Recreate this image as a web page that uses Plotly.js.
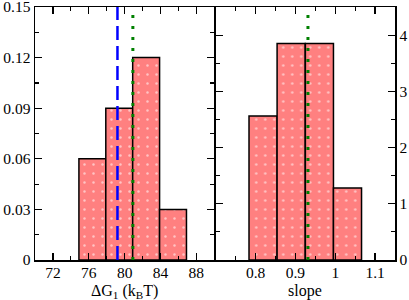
<!DOCTYPE html>
<html>
<head>
<meta charset="utf-8">
<script src="https://cdn.plot.ly/plotly-3.0.1.min.js"></script>
<style>html,body{margin:0;padding:0;background:#fff;}#chart{width:409px;height:300px;}</style>
</head>
<body>
<div id="chart"></div>
<script>
// Left panel: ΔG1 histogram (fraction)
const dgBinStart = [74.9, 77.9, 80.9, 83.9];
const dgBinWidth = 3.0;
const dgValues = [0.06, 0.09, 0.12, 0.03];
const dgBlueLine = 79.2;
const dgGreenLine = 80.92;
const dgTicks = [72, 76, 80, 84, 88];
const dgYTicks = [0, 0.03, 0.06, 0.09, 0.12, 0.15];
const dgYTickText = ['0', '0.03', '0.06', '0.09', '0.12', '0.15'];
const dgTitle = 'ΔG<sub>1</sub> (k<sub>B</sub>T)';

// Right panel: slope histogram (density)
const slopeBinStart = [0.7835, 0.854, 0.925, 0.9955];
const slopeBinWidth = 0.0705;
const slopeValues = [2.56, 3.85, 3.85, 1.28];
const slopeGreenLine = 0.9315;
const slopeTicks = [0.8, 0.9, 1, 1.1];
const slopeTickText = ['0.8', '0.9', '1', '1.1'];
const slopeYTicks = [0, 1, 2, 3, 4];
const slopeTitle = 'slope';

const tickFont = {family: 'Liberation Serif, Times New Roman, serif', size: 15.5, color: '#000'};
const titleFont = {family: 'Liberation Serif, Times New Roman, serif', size: 16, color: '#000'};
const barMarker = {
  color: '#ff8080',
  line: {color: '#000', width: 1.5},
  pattern: {shape: '.', fgcolor: '#ffc4c4', bgcolor: '#ff8080', size: 9, solidity: 0.06}
};

const centers = (starts, w) => starts.map(s => s + w / 2);

const traces = [
  {type: 'bar', x: centers(dgBinStart, dgBinWidth), y: dgValues, width: dgBinWidth,
   marker: barMarker, xaxis: 'x', yaxis: 'y', showlegend: false, hoverinfo: 'none'},
  {type: 'bar', x: centers(slopeBinStart, slopeBinWidth), y: slopeValues, width: slopeBinWidth,
   marker: barMarker, xaxis: 'x2', yaxis: 'y2', showlegend: false, hoverinfo: 'none'},
  {type: 'scatter', mode: 'lines', x: [dgBlueLine, dgBlueLine], y: [0, 0.15],
   line: {color: '#0000ff', width: 2.5, dash: '14px,6px'}, xaxis: 'x', yaxis: 'y', showlegend: false, hoverinfo: 'none'},
  {type: 'scatter', mode: 'lines', x: [dgGreenLine, dgGreenLine], y: [0, 0.15],
   line: {color: '#008000', width: 3, dash: '3px,8px'}, xaxis: 'x', yaxis: 'y', showlegend: false, hoverinfo: 'none'},
  {type: 'scatter', mode: 'lines', x: [slopeGreenLine, slopeGreenLine], y: [0, 4.5],
   line: {color: '#008000', width: 3, dash: '3px,8px'}, xaxis: 'x2', yaxis: 'y2', showlegend: false, hoverinfo: 'none'}
];

const axisCommon = {
  showline: true, linecolor: '#000', linewidth: 1.5, mirror: 'allticks',
  ticks: 'inside', ticklen: 7, tickwidth: 1.2, tickcolor: '#000',
  showgrid: false, zeroline: false, tickfont: tickFont, fixedrange: true,
  ticklabeloverflow: 'allow'
};
const minorCommon = {ticks: 'inside', ticklen: 4, tickcolor: '#000', tickwidth: 1.2};
const half = 0.75 / 360;

const layout = {
  width: 409, height: 300,
  margin: {l: 35, r: 14, t: 7, b: 40},
  paper_bgcolor: '#fff', plot_bgcolor: '#fff',
  font: tickFont,
  bargap: 0,
  xaxis: Object.assign({}, axisCommon, {
    domain: [0, 0.5 - half], range: [70, 90], tickvals: dgTicks, ticklabelstandoff: -2,
    minor: Object.assign({dtick: 2, tick0: 70}, minorCommon)
  }),
  yaxis: Object.assign({}, axisCommon, {
    range: [0, 0.15], tickvals: dgYTicks, ticktext: dgYTickText,
    minor: Object.assign({dtick: 0.015, tick0: 0}, minorCommon)
  }),
  xaxis2: Object.assign({}, axisCommon, {
    domain: [0.5 + half, 1], range: [0.7, 1.15], tickvals: slopeTicks, ticktext: slopeTickText,
    anchor: 'y2', ticklabelstandoff: -2,
    minor: Object.assign({dtick: 0.05, tick0: 0.7}, minorCommon)
  }),
  yaxis2: Object.assign({}, axisCommon, {
    range: [0, 4.5], tickvals: slopeYTicks, anchor: 'x2', side: 'right',
    minor: Object.assign({dtick: 0.5, tick0: 0}, minorCommon)
  }),
  annotations: [
    {text: dgTitle, xref: 'x domain', yref: 'y domain', x: 0.5, y: 0, xanchor: 'center', yanchor: 'top',
     yshift: -21, borderpad: 0, showarrow: false, font: titleFont},
    {text: slopeTitle, xref: 'x2 domain', yref: 'y2 domain', x: 0.5, y: 0, xanchor: 'center', yanchor: 'top',
     yshift: -21, borderpad: 0, showarrow: false, font: titleFont}
  ]
};

Plotly.newPlot('chart', traces, layout, {displayModeBar: false, staticPlot: true});
</script>
</body>
</html>
